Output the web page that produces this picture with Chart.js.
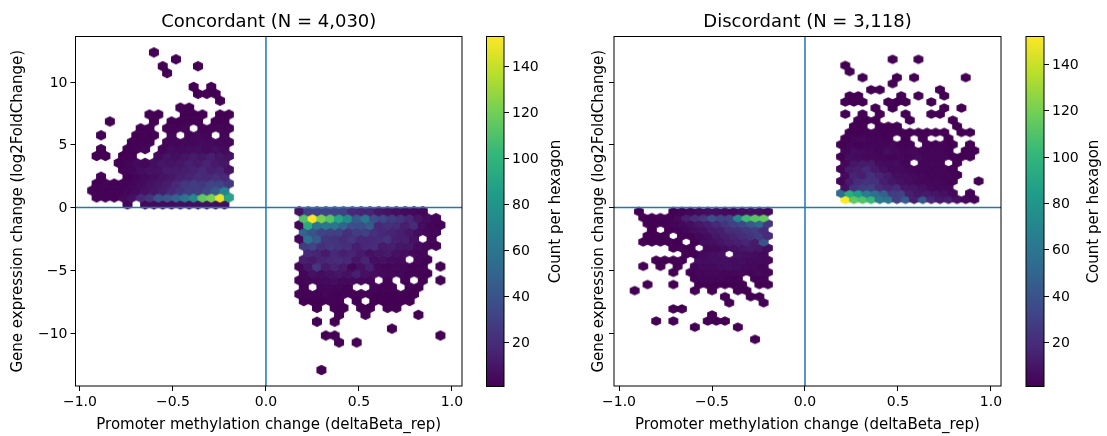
<!DOCTYPE html>
<html>
<head>
<meta charset="utf-8">
<title>Concordant / Discordant hexbin</title>
<script src="https://cdn.jsdelivr.net/npm/chart.js@4/dist/chart.umd.min.js"></script>
<style>
  html, body { margin: 0; padding: 0; background: #fff; }
  #fig { position: relative; width: 1107px; height: 436px; overflow: hidden; }
  canvas { position: absolute; top: 0; }
</style>
</head>
<body>
<div id="fig">
  <canvas id="concordantChart" width="470" height="436" style="left:9px"></canvas>
  <canvas id="concordantBar" width="100" height="436" style="left:480px"></canvas>
  <canvas id="discordantChart" width="420" height="436" style="left:590px"></canvas>
  <canvas id="discordantBar" width="81" height="436" style="left:1020px"></canvas>
</div>
<script>
// Ticks and labels
const xTickValues = [-1, -0.5, 0, 0.5, 1];
const yTickValues = [-10, -5, 0, 5, 10];
const colorbarTicks = [20, 40, 60, 80, 100, 120, 140];
const xLabel = 'Promoter methylation change (deltaBeta_rep)';
const yLabel = 'Gene expression change (log2FoldChange)';
const barLabel = 'Count per hexagon';
const concordantMax = 153;
const discordantMax = 152;
const viridisStops = ['#440154', '#482878', '#3e4989', '#31688e', '#26828e', '#1f9e89', '#35b779', '#6ece58', '#b5de2b', '#fde725'];

// Hexbin counts, one entry per row of bins: [row, first column, counts]. 0 = empty bin.
const concordantRows = [
  [0, 26, [1]],
  [4, 28, [1, 0, 1]],
  [5, 27, [1, 1, 0, 0, 0, 0, 0, 0, 0, 0, 0, 0, 0, 1]],
  [6, 34, [1]],
  [7, 26, [1, 0, 1]],
  [8, 28, [1, 0, 0, 1, 0, 0, 0, 0, 0, 1]],
  [9, 26, [1, 0, 1, 1, 0, 1, 1, 0, 1, 1]],
  [10, 24, [1, 1, 1, 2, 2, 0, 1, 0, 1, 1, 1, 1, 1]],
  [11, 24, [2, 2, 2, 3, 2, 2, 2, 2, 2, 1, 1, 1, 1, 1]],
  [12, 24, [2, 0, 3, 3, 3, 2, 0, 0, 3, 2, 2, 0, 2, 1]],
  [13, 24, [2, 3, 4, 5, 6, 4, 5, 4, 3, 0, 2, 0, 2, 0, 1, 0, 1]],
  [14, 24, [3, 8, 6, 8, 10, 8, 14, 8, 6, 5, 4, 3, 2, 1, 1]],
  [15, 24, [3, 10, 25, 12, 16, 12, 3, 8, 14, 4, 3, 4, 3, 2, 2, 0, 1]],
  [16, 24, [14, 12, 16, 18, 20, 18, 10, 16, 7, 8, 6, 5, 0, 3, 2]],
  [17, 25, [18, 16, 12, 18, 14, 16, 12, 8, 10, 12, 8, 6, 4, 3]],
  [18, 24, [28, 32, 22, 26, 24, 22, 14, 18, 20, 12, 14, 10, 10, 5, 3, 2]],
  [19, 24, [3, 58, 45, 25, 24, 20, 25, 18, 18, 20, 24, 14, 14, 8, 0, 3]],
  [20, 24, [50, 40, 32, 30, 30, 22, 28, 30, 22, 18, 16, 14, 10, 6, 4, 3]],
  [21, 24, [3, 95, 60, 62, 60, 50, 38, 38, 45, 18, 22, 20, 14, 20, 6, 3, 2]],
  [22, 24, [110, 153, 122, 112, 90, 75, 45, 62, 38, 34, 28, 24, 18, 10, 6, 3]],
  [23, 24, [8, 30, 32, 32, 32, 30, 18, 16, 16, 10, 8, 6, 5, 4, 3]],
  [24, 4, [3, 0, 4, 4, 5, 5, 6, 6, 6, 7, 7, 7]],
  [25, 1, [2, 2, 2, 4, 8, 18, 24, 40, 42, 50, 60, 72, 115, 122, 148, 90]],
  [26, 0, [2, 2, 2, 2, 3, 5, 8, 10, 13, 18, 24, 28, 28, 34, 44, 70]],
  [27, 1, [1, 2, 2, 2, 3, 5, 8, 10, 13, 18, 26, 28, 26, 32, 32, 26]],
  [28, 1, [2, 0, 0, 1, 3, 5, 7, 9, 11, 14, 16, 20, 18, 22, 18]],
  [29, 4, [2, 3, 6, 8, 8, 12, 12, 13, 15, 18, 14, 16, 8]],
  [30, 3, [1, 3, 5, 4, 7, 10, 9, 10, 14, 12, 16, 12, 10]],
  [31, 1, [1, 1, 0, 1, 2, 0, 0, 5, 9, 7, 9, 12, 10, 14, 10, 8]],
  [32, 1, [1, 0, 0, 1, 2, 3, 0, 3, 6, 5, 6, 7, 5, 7, 5]],
  [33, 5, [1, 2, 2, 0, 3, 3, 4, 4, 5, 5, 4, 3]],
  [34, 1, [1, 0, 0, 0, 1, 2, 1, 0, 3, 0, 3, 4, 3, 0, 3]],
  [35, 6, [1, 1, 0, 2, 2, 3, 0, 2, 2, 3, 2]],
  [36, 2, [1, 0, 0, 0, 0, 1, 0, 1, 1, 1, 1, 0, 1, 1]],
  [37, 7, [1, 1, 0, 0, 1, 1, 1, 0, 1, 1]],
  [38, 10, [1, 1]],
  [39, 15, [1]],
  [40, 12, [1, 1, 1]],
  [41, 12, [1, 0, 1]],
  [43, 9, [1]],
  [44, 8, [1, 0, 0, 0, 1]],
  [45, 10, [1]],
  [46, 7, [1]]
];

const discordantRows = [
  [0, 14, [1]],
  [2, 7, [1, 0, 0, 0, 0, 1]],
  [3, 3, [1, 0, 1, 0, 0, 0, 1, 1, 1]],
  [4, 9, [1]],
  [5, 5, [1, 1]],
  [6, 11, [1, 0, 0, 0, 1]],
  [7, 11, [1, 0, 0, 1, 1]],
  [8, 0, [1, 0, 0, 0, 0, 0, 0, 1, 0, 1, 0, 0, 1, 1]],
  [9, 2, [1, 0, 0, 1, 0, 0, 1, 1, 1, 1, 1, 1, 0, 1, 1]],
  [10, 7, [2, 3, 3, 3, 2, 2, 0, 2, 2]],
  [11, 5, [1, 0, 1, 3, 4, 4, 3, 3, 4, 3, 4, 3]],
  [12, 1, [1, 0, 1, 0, 1, 0, 3, 5, 5, 6, 7, 6, 5, 4, 3]],
  [13, 3, [1, 1, 1, 1, 0, 6, 6, 7, 7, 6, 7, 5, 5, 4]],
  [14, 6, [1, 2, 5, 7, 8, 0, 8, 7, 6, 4]],
  [15, 5, [1, 2, 1, 0, 3, 4, 6, 8, 10, 12, 10, 6]],
  [16, 1, [1, 1, 1, 1, 1, 0, 1, 6, 7, 9, 12, 14, 16, 12, 40]],
  [17, 2, [1, 1, 1, 0, 2, 2, 4, 6, 10, 13, 16, 20, 24, 28, 20]],
  [18, 2, [1, 0, 1, 2, 3, 6, 8, 12, 14, 20, 22, 25, 28, 20]],
  [19, 2, [1, 1, 2, 3, 4, 6, 10, 14, 18, 24, 30, 34, 42, 50, 25]],
  [20, 1, [1, 1, 2, 2, 4, 14, 20, 26, 38, 32, 32, 72, 105, 112, 115]],
  [21, 1, [1, 0, 0, 0, 1, 2, 3, 5, 6, 6, 5, 4, 6, 7, 6, 4]],
  [23, 25, [152, 115, 110, 102, 62, 60, 30, 45, 14, 42, 18, 12, 14, 8, 5, 3]],
  [24, 24, [55, 95, 85, 65, 55, 48, 28, 30, 14, 10, 12, 10, 8, 5, 0, 2]],
  [25, 25, [8, 24, 28, 30, 20, 16, 20, 10, 10, 8, 5, 4, 4]],
  [26, 24, [3, 12, 20, 24, 22, 14, 10, 8, 6, 4, 4, 4, 3, 2, 0, 0, 1]],
  [27, 25, [5, 16, 14, 22, 16, 12, 7, 6, 5, 4, 3, 3, 3, 1]],
  [28, 24, [3, 12, 14, 18, 12, 8, 5, 5, 4, 3, 3, 3, 3, 2]],
  [29, 25, [4, 10, 12, 12, 6, 5, 6, 3, 0, 3, 3, 3, 0, 1]],
  [30, 24, [1, 6, 5, 4, 4, 4, 3, 4, 3, 5, 3, 3, 3, 2, 1, 1]],
  [31, 25, [3, 6, 5, 4, 3, 6, 4, 3, 4, 3, 3, 3, 2, 0, 1, 1]],
  [32, 24, [1, 3, 2, 3, 3, 3, 4, 2, 2, 0, 2, 2, 2, 1, 0, 1]],
  [33, 25, [1, 3, 4, 3, 3, 2, 0, 1, 0, 1, 0, 0, 1]],
  [34, 25, [1, 1, 2, 2, 1, 2, 1, 1, 1, 1, 1, 1, 0, 1, 1]],
  [35, 26, [1, 1, 0, 1, 1, 1, 0, 0, 0, 0, 0, 0, 1]],
  [36, 26, [1, 1, 1, 0, 0, 0, 1, 0, 0, 0, 0, 1]],
  [37, 25, [1, 0, 1, 0, 1, 0, 0, 1, 0, 0, 1, 1]],
  [38, 28, [1, 0, 1, 0, 0, 0, 0, 0, 1, 0, 1]],
  [39, 25, [1, 1, 1, 0, 0, 1, 1, 1, 0, 0, 1]],
  [40, 25, [1, 1, 0, 0, 0, 0, 1, 0, 1, 0, 0, 1]],
  [41, 28, [1, 1, 0, 0, 0, 0, 0, 0, 1]],
  [42, 30, [1]],
  [43, 27, [1, 0, 0, 0, 1, 0, 1, 0, 0, 0, 0, 0, 1]],
  [44, 25, [1]],
  [45, 25, [1]],
  [46, 30, [1, 0, 0, 1]]
];

const FONT = 'DejaVu Sans';
const BLUE = '#1f77b4';
const TICK_SIZE = 14;
const LABEL_SIZE = 15;
const TITLE_SIZE = 18;

function hexToRgb(hex) {
  return [1, 3, 5].map(i => parseInt(hex.substr(i, 2), 16));
}

function viridis(t) {
  const p = Math.max(0, Math.min(1, t)) * (viridisStops.length - 1);
  const i = Math.min(Math.floor(p), viridisStops.length - 2);
  const a = hexToRgb(viridisStops[i]);
  const b = hexToRgb(viridisStops[i + 1]);
  const f = p - i;
  return 'rgb(' + a.map((v, k) => Math.round(v + (b[k] - v) * f)).join(',') + ')';
}

// one small canvas per color, used as the chart's pointStyle
function hexSprite(color, w, halfH) {
  const size = 16;
  const c = document.createElement('canvas');
  c.width = size;
  c.height = size;
  const g = c.getContext('2d');
  const m = size / 2;
  g.translate(m, m);
  g.beginPath();
  g.moveTo(w / 2, -halfH / 2);
  g.lineTo(w / 2, halfH / 2);
  g.lineTo(0, halfH);
  g.lineTo(-w / 2, halfH / 2);
  g.lineTo(-w / 2, -halfH / 2);
  g.lineTo(0, -halfH);
  g.closePath();
  g.fillStyle = color;
  g.strokeStyle = color;
  g.lineWidth = 1.2;
  g.fill();
  g.stroke();
  return c;
}

function rowsToPoints(rows, grid) {
  const pts = [];
  rows.forEach(([row, first, counts]) => {
    counts.forEach((count, i) => {
      if (!count) return;
      const half = row % 2 === 0 ? grid.xStep / 2 : 0;
      pts.push({ x: grid.x0 + (first + i) * grid.xStep + half, y: grid.y0 + row * grid.yStep, count: count });
    });
  });
  return pts;
}

const frame = {
  id: 'frame',
  afterDraw(chart) {
    const a = chart.chartArea;
    const c = chart.ctx;
    c.save();
    c.strokeStyle = '#000';
    c.lineWidth = 1;
    c.strokeRect(a.left, a.top, a.right - a.left, a.bottom - a.top);
    const t = chart.options.panelTitle;
    if (t) {
      c.font = TITLE_SIZE + 'px "' + FONT + '"';
      c.fillStyle = '#000';
      c.textAlign = 'center';
      c.textBaseline = 'middle';
      c.fillText(t, (a.left + a.right) / 2, 22);
    }
    c.restore();
  }
};

function fixedTicks(values) {
  return scale => { scale.ticks = values.map(v => ({ value: v })); };
}

function minusSign(text) {
  return String(text).replace('-', '\u2212');
}

function makePanel(id, title, rows, grid, cfg) {
  const sprites = {};
  const spriteFor = count => {
    if (!sprites[count]) sprites[count] = hexSprite(viridis((count - 1) / (cfg.max - 1)), cfg.hexW, cfg.hexH);
    return sprites[count];
  };
  return new Chart(document.getElementById(id), {
    type: 'scatter',
    data: {
      datasets: [
        { data: [{ x: 0, y: cfg.yMin }, { x: 0, y: cfg.yMax }], showLine: true, borderColor: BLUE, borderWidth: 1.5, pointRadius: 0, order: 0 },
        { data: [{ x: cfg.xMin, y: 0 }, { x: cfg.xMax, y: 0 }], showLine: true, borderColor: BLUE, borderWidth: 1.5, pointRadius: 0, order: 0 },
        {
          data: rowsToPoints(rows, grid),
          order: 1,
          pointRadius: 5,
          pointBorderWidth: 0,
          pointStyle: c => spriteFor(c.raw.count)
        }
      ]
    },
    options: {
      responsive: false,
      animation: false,
      events: [],
      panelTitle: title,
      layout: { padding: { top: 36.5, right: cfg.padRight, bottom: 1.5, left: 0 } },
      plugins: {
        legend: { display: false },
        tooltip: { enabled: false }
      },
      scales: {
        x: {
          type: 'linear',
          min: cfg.xMin,
          max: cfg.xMax,
          afterBuildTicks: fixedTicks(xTickValues),
          afterFit: s => { s.height = 48.5; },
          grid: { drawOnChartArea: false, tickLength: 5, tickColor: '#000' },
          border: { display: false },
          ticks: { color: '#000', font: { family: FONT, size: TICK_SIZE }, padding: 3, maxRotation: 0, autoSkip: false, callback: v => minusSign(v.toFixed(1)) },
          title: { display: true, text: xLabel, color: '#000', font: { family: FONT, size: LABEL_SIZE }, padding: 0 }
        },
        y: {
          type: 'linear',
          min: cfg.yMin,
          max: cfg.yMax,
          afterBuildTicks: fixedTicks(yTickValues),
          afterFit: s => { s.width = cfg.axisW; },
          grid: { drawOnChartArea: false, tickLength: 5, tickColor: '#000' },
          border: { display: false },
          ticks: { color: '#000', font: { family: FONT, size: TICK_SIZE }, padding: 3, labelOffset: 1, autoSkip: false, callback: v => (cfg.showY ? minusSign(v) : '') },
          title: { display: true, text: yLabel, color: '#000', font: { family: FONT, size: LABEL_SIZE }, padding: 0 }
        }
      }
    },
    plugins: [frame]
  });
}

function makeColorbar(id, maxCount, cfg) {
  const label = {
    id: 'barLabel',
    afterDraw(chart) {
      const c = chart.ctx;
      const a = chart.chartArea;
      c.save();
      c.translate(cfg.labelX, (a.top + a.bottom) / 2);
      c.rotate(-Math.PI / 2);
      c.font = LABEL_SIZE + 'px "' + FONT + '"';
      c.fillStyle = '#000';
      c.textAlign = 'center';
      c.textBaseline = 'middle';
      c.fillText(barLabel, 0, 0);
      c.restore();
    }
  };
  return new Chart(document.getElementById(id), {
    type: 'bar',
    data: {
      labels: [barLabel],
      datasets: [{
        data: [[1, maxCount]],
        barPercentage: 1,
        categoryPercentage: 1,
        backgroundColor: c => {
          const a = c.chart.chartArea;
          if (!a) return viridisStops[0];
          const g = c.chart.ctx.createLinearGradient(0, a.bottom, 0, a.top);
          viridisStops.forEach((s, i) => g.addColorStop(i / (viridisStops.length - 1), s));
          return g;
        }
      }]
    },
    options: {
      responsive: false,
      animation: false,
      events: [],
      layout: { padding: { top: 36.5, bottom: 49.5, left: cfg.padLeft, right: 0 } },
      plugins: { legend: { display: false }, tooltip: { enabled: false } },
      scales: {
        x: { display: false },
        y: {
          position: 'right',
          min: 1,
          max: maxCount,
          afterBuildTicks: fixedTicks(colorbarTicks),
          afterFit: s => { s.width = cfg.axisW; },
          grid: { drawOnChartArea: false, tickLength: 5, tickColor: '#000' },
          border: { display: false },
          ticks: { color: '#000', font: { family: FONT, size: TICK_SIZE }, padding: 3, labelOffset: 1, autoSkip: false }
        }
      }
    },
    plugins: [frame, label]
  });
}

makePanel('concordantChart', 'Concordant (N = 4,030)', concordantRows,
  { x0: -0.958, xStep: 0.0474, y0: -12.95, yStep: 0.5503 },
  { max: concordantMax, hexW: 8.75, hexH: 4.6, xMin: -1.024, xMax: 1.054, yMin: -14.22, yMax: 13.63, axisW: 66.5, padRight: 17, showY: true });

makePanel('discordantChart', 'Discordant (N = 3,118)', discordantRows,
  { x0: -0.9392, xStep: 0.04624, y0: -10.5, yStep: 0.485 },
  { max: discordantMax, hexW: 8.6, hexH: 4.06, xMin: -1.027, xMax: 1.054, yMin: -14.22, yMax: 13.63, axisW: 24, padRight: 9, showY: false });

makeColorbar('concordantBar', concordantMax, { padLeft: 6.5, axisW: 76, labelX: 76 });
makeColorbar('discordantBar', discordantMax, { padLeft: 6, axisW: 57, labelX: 74 });
</script>
</body>
</html>
